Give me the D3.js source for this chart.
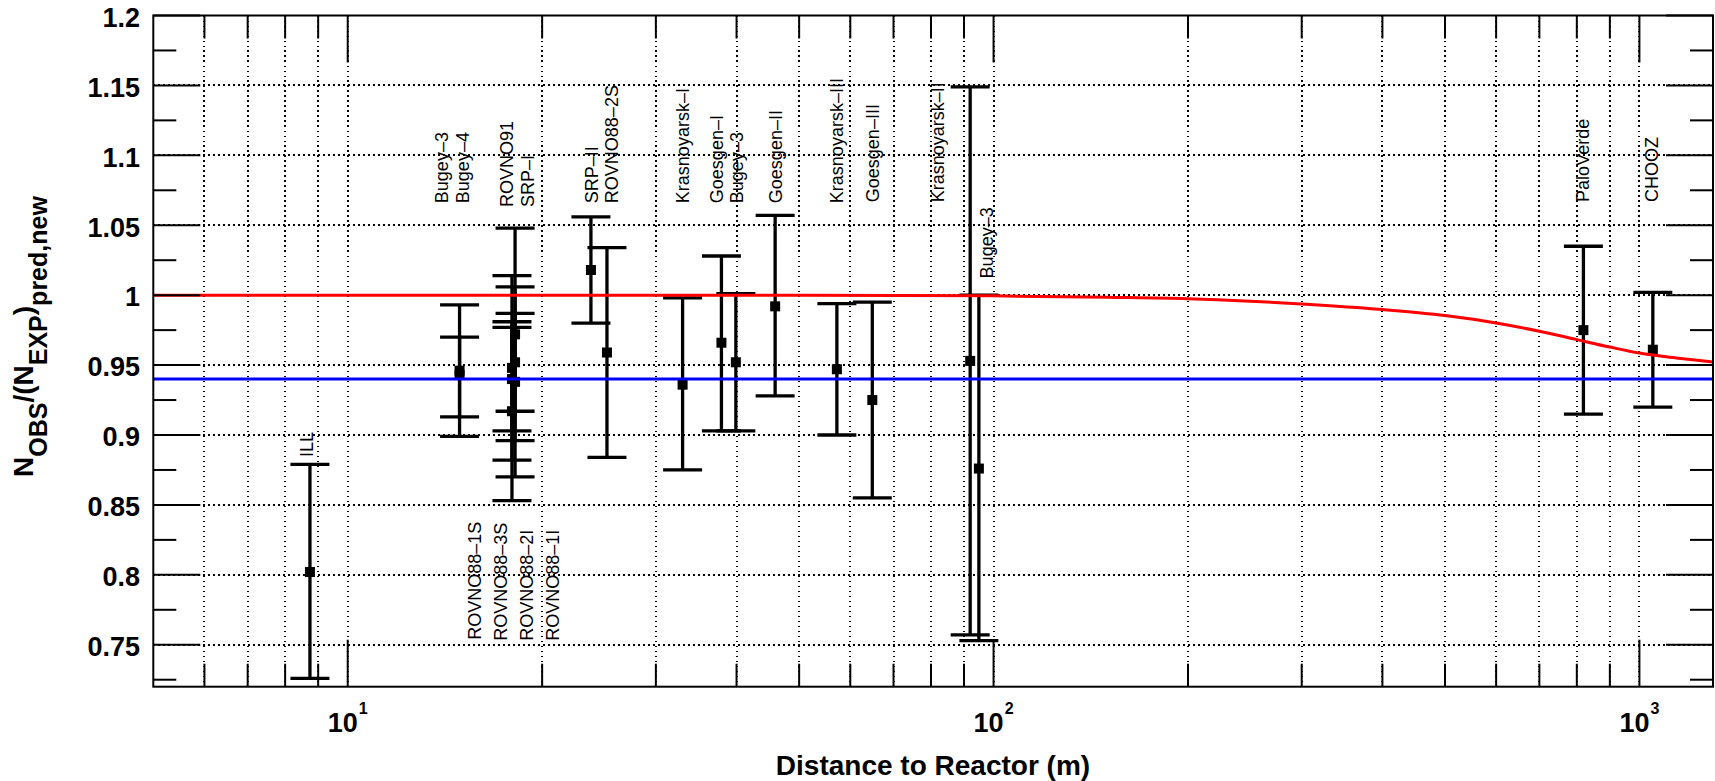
<!DOCTYPE html>
<html>
<head>
<meta charset="utf-8">
<script src="https://cdn.jsdelivr.net/npm/d3@7"></script>
<style>
  html, body { margin: 0; padding: 0; background: #fff; }
  svg { display: block; }
  text { font-family: "Liberation Sans", Arial, Helvetica, sans-serif; }
</style>
</head>
<body>
<svg id="chart" width="1715" height="781"></svg>
<script>
// ---------------- data ----------------
const expNames = ["ILL","Bugey-4","Bugey-3","ROVNO91","SRP-I","ROVNO88-1I","ROVNO88-2I","ROVNO88-1S","ROVNO88-3S",
  "SRP-II","ROVNO88-2S","Krasnoyarsk-I","Goesgen-I","Bugey-3","Goesgen-II","Krasnoyarsk-III","Goesgen-III",
  "Krasnoyarsk-II","Bugey-3","PaloVerde","CHOOZ"];
const expDistance = [8.74, 14.9, 14.9, 17.96, 18.16, 17.96, 17.96, 18.16, 18.16,
  23.8, 25.2, 33.0, 37.9, 39.9, 45.9, 57.2, 64.9, 92.0, 94.9, 819, 1049];
const expRatio = [0.802, 0.943, 0.946, 0.940, 0.952, 0.917, 0.948, 0.972, 0.938,
  1.018, 0.959, 0.936, 0.966, 0.952, 0.992, 0.947, 0.925, 0.953, 0.876, 0.975, 0.961];
const expHigh = [0.879, 0.970, 0.993, 0.977, 0.987, 0.981, 1.014, 1.048, 1.006,
  1.056, 1.034, 0.998, 1.028, 1.001, 1.057, 0.994, 0.995, 1.149, 1.000, 1.035, 1.002];
const expLow = [0.726, 0.913, 0.899, 0.903, 0.917, 0.853, 0.882, 0.896, 0.870,
  0.980, 0.884, 0.875, 0.903, 0.903, 0.928, 0.900, 0.855, 0.757, 0.753, 0.915, 0.920];

// annotation labels (data coordinates of the start of each vertical text)
const labelText = ["Bugey–3","Bugey–4","ROVNO91","SRP–I","SRP–II","ROVNO88–2S","Krasnoyarsk–I","Goesgen–I",
  "Bugey–3","Goesgen–II","Krasnoyarsk–III","Goesgen–III","Krasnoyarsk–II","Bugey–3","PaloVerde","CHOOZ",
  "ROVNO88–1S","ROVNO88–3S","ROVNO88–2I","ROVNO88–1I","ILL"];
const labelDist = [14.28, 15.43, 18.04, 19.45, 24.43, 26.18, 33.8, 38.07,
  40.97, 46.97, 58.44, 66.46, 83.86, 99.65, 836.9, 1068.6,
  16.08, 17.62, 19.34, 21.21, 8.845];
const labelRatio = [1.0658, 1.0658, 1.063, 1.063, 1.0658, 1.0658, 1.0658, 1.0658,
  1.0658, 1.0658, 1.0658, 1.0665, 1.0665, 1.012, 1.0667, 1.0667,
  0.7536, 0.7529, 0.7529, 0.7529, 0.8843];

// red curve
const curveDist  = [5, 20, 50, 100, 150, 200, 250, 300, 400, 500, 600, 700, 800, 900, 1000, 1100, 1200, 1300];
const curveRatio = [1.0, 1.0, 1.0, 0.9995, 0.9985, 0.9975, 0.9957, 0.9937, 0.9897, 0.9854, 0.9801, 0.9742, 0.9682, 0.9629, 0.9586, 0.9560, 0.9540, 0.9522];
// blue mean line
const meanRatio = 0.940;

// axes
const xDomain = [5, 1300];
const yDomain = [0.72, 1.2];
const xMajorTicks = [10, 100, 1000];
const xMajorExp = ["1", "2", "3"];
const xMinorTicks = [6, 7, 8, 9, 20, 30, 40, 50, 60, 70, 80, 90, 200, 300, 400, 500, 600, 700, 800, 900];
const yMajorTicks = [0.75, 0.8, 0.85, 0.9, 0.95, 1.0, 1.05, 1.1, 1.15, 1.2];
const yMajorLabels = ["0.75", "0.8", "0.85", "0.9", "0.95", "1", "1.05", "1.1", "1.15", "1.2"];
const yMinorTicks = [0.725, 0.775, 0.825, 0.875, 0.925, 0.975, 1.025, 1.075, 1.125, 1.175];

// ---------------- layout ----------------
const L = 153.3, R = 1713, T = 15.5, B = 686.7;
const svg = d3.select("#chart");
const x = d3.scaleLog().domain(xDomain).range([L, R]);
const y = d3.scaleLinear().domain(yDomain).range([B, T]);

// grid
const grid = svg.append("g").attr("stroke", "#000").attr("stroke-width", 1.8)
  .attr("stroke-dasharray", "1.8,3.2").attr("fill", "none").attr("shape-rendering", "crispEdges");
xMajorTicks.concat(xMinorTicks).forEach(v => {
  const px = Math.round(x(v));
  grid.append("line").attr("x1", px).attr("x2", px).attr("y1", T).attr("y2", B);
});
yMajorTicks.filter(v => v < 1.2).forEach(v => {
  const py = Math.round(y(v));
  grid.append("line").attr("x1", L).attr("x2", R).attr("y1", py).attr("y2", py);
});

// error bars
const data = expNames.map((n, i) => ({n, d: expDistance[i], r: expRatio[i], hi: expHigh[i], lo: expLow[i]}));
const capW = 39;
const bars = svg.append("g").attr("stroke", "#000").attr("stroke-width", 3.3);
data.forEach(p => {
  bars.append("line").attr("x1", x(p.d)).attr("x2", x(p.d)).attr("y1", y(p.hi)).attr("y2", y(p.lo));
  bars.append("line").attr("x1", x(p.d) - capW/2).attr("x2", x(p.d) + capW/2).attr("y1", y(p.hi)).attr("y2", y(p.hi));
  bars.append("line").attr("x1", x(p.d) - capW/2).attr("x2", x(p.d) + capW/2).attr("y1", y(p.lo)).attr("y2", y(p.lo));
});
svg.append("g").selectAll("rect").data(data).join("rect")
  .attr("x", p => x(p.d) - 5).attr("y", p => y(p.r) - 5).attr("width", 10).attr("height", 10).attr("fill", "#000");

// lines
const line = d3.line().x((d, i) => x(curveDist[i])).y((d, i) => y(curveRatio[i])).curve(d3.curveMonotoneX);
svg.append("path").datum(curveRatio).attr("d", line).attr("fill", "none").attr("stroke", "#ff0000").attr("stroke-width", 3);
svg.append("line").attr("x1", L).attr("x2", R).attr("y1", y(meanRatio)).attr("y2", y(meanRatio))
  .attr("stroke", "#0000ff").attr("stroke-width", 3);

// labels
const lab = svg.append("g").attr("font-size", 18).attr("fill", "#000");
labelText.forEach((t, i) => {
  lab.append("text").attr("transform", `translate(${x(labelDist[i])},${y(labelRatio[i])}) rotate(-90)`)
    .attr("text-anchor", "start").text(t);
});

// frame & ticks
const ax = svg.append("g").attr("stroke", "#000").attr("stroke-width", 2).attr("fill", "none");
ax.append("rect").attr("x", L).attr("y", T).attr("width", R - L).attr("height", B - T);
const majL = 47, minL = 23;
xMajorTicks.forEach(v => {
  ax.append("line").attr("x1", x(v)).attr("x2", x(v)).attr("y1", B).attr("y2", B - majL);
  ax.append("line").attr("x1", x(v)).attr("x2", x(v)).attr("y1", T).attr("y2", T + majL);
});
xMinorTicks.forEach(v => {
  ax.append("line").attr("x1", x(v)).attr("x2", x(v)).attr("y1", B).attr("y2", B - minL);
  ax.append("line").attr("x1", x(v)).attr("x2", x(v)).attr("y1", T).attr("y2", T + minL);
});
yMajorTicks.forEach(v => {
  ax.append("line").attr("x1", L).attr("x2", L + majL).attr("y1", y(v)).attr("y2", y(v));
  ax.append("line").attr("x1", R).attr("x2", R - majL).attr("y1", y(v)).attr("y2", y(v));
});
yMinorTicks.forEach(v => {
  ax.append("line").attr("x1", L).attr("x2", L + minL).attr("y1", y(v)).attr("y2", y(v));
  ax.append("line").attr("x1", R).attr("x2", R - minL).attr("y1", y(v)).attr("y2", y(v));
});

// tick labels
const tl = svg.append("g").attr("font-weight", "bold").attr("fill", "#000");
yMajorTicks.forEach((v, i) => {
  tl.append("text").attr("x", 140).attr("y", y(v) + 11.3).attr("text-anchor", "end")
    .attr("font-size", 27).text(yMajorLabels[i]);
});
xMajorTicks.forEach((v, i) => {
  const t = tl.append("text").attr("x", x(v)).attr("y", 731.7).attr("text-anchor", "middle").attr("font-size", 27);
  t.append("tspan").text("10");
  t.append("tspan").attr("font-size", 16).attr("dy", -18).attr("dx", 1).text(xMajorExp[i]);
});

// axis titles
svg.append("text").attr("x", 933).attr("y", 775).attr("text-anchor", "middle")
  .attr("font-size", 28).attr("font-weight", "bold").text("Distance to Reactor (m)");

const yt = svg.append("text").attr("transform", "translate(33.3,477) rotate(-90)")
  .attr("text-anchor", "start").attr("font-size", 28).attr("font-weight", "bold");
yt.append("tspan").text("N");
yt.append("tspan").attr("font-size", 25).attr("dy", 14).text("OBS");
yt.append("tspan").attr("dy", -14).text("/(N");
yt.append("tspan").attr("font-size", 25).attr("dy", 14).text("EXP");
yt.append("tspan").attr("dy", -14).text(")");
yt.append("tspan").attr("font-size", 25).attr("dy", 14).text("pred,new");
</script>
</body>
</html>
